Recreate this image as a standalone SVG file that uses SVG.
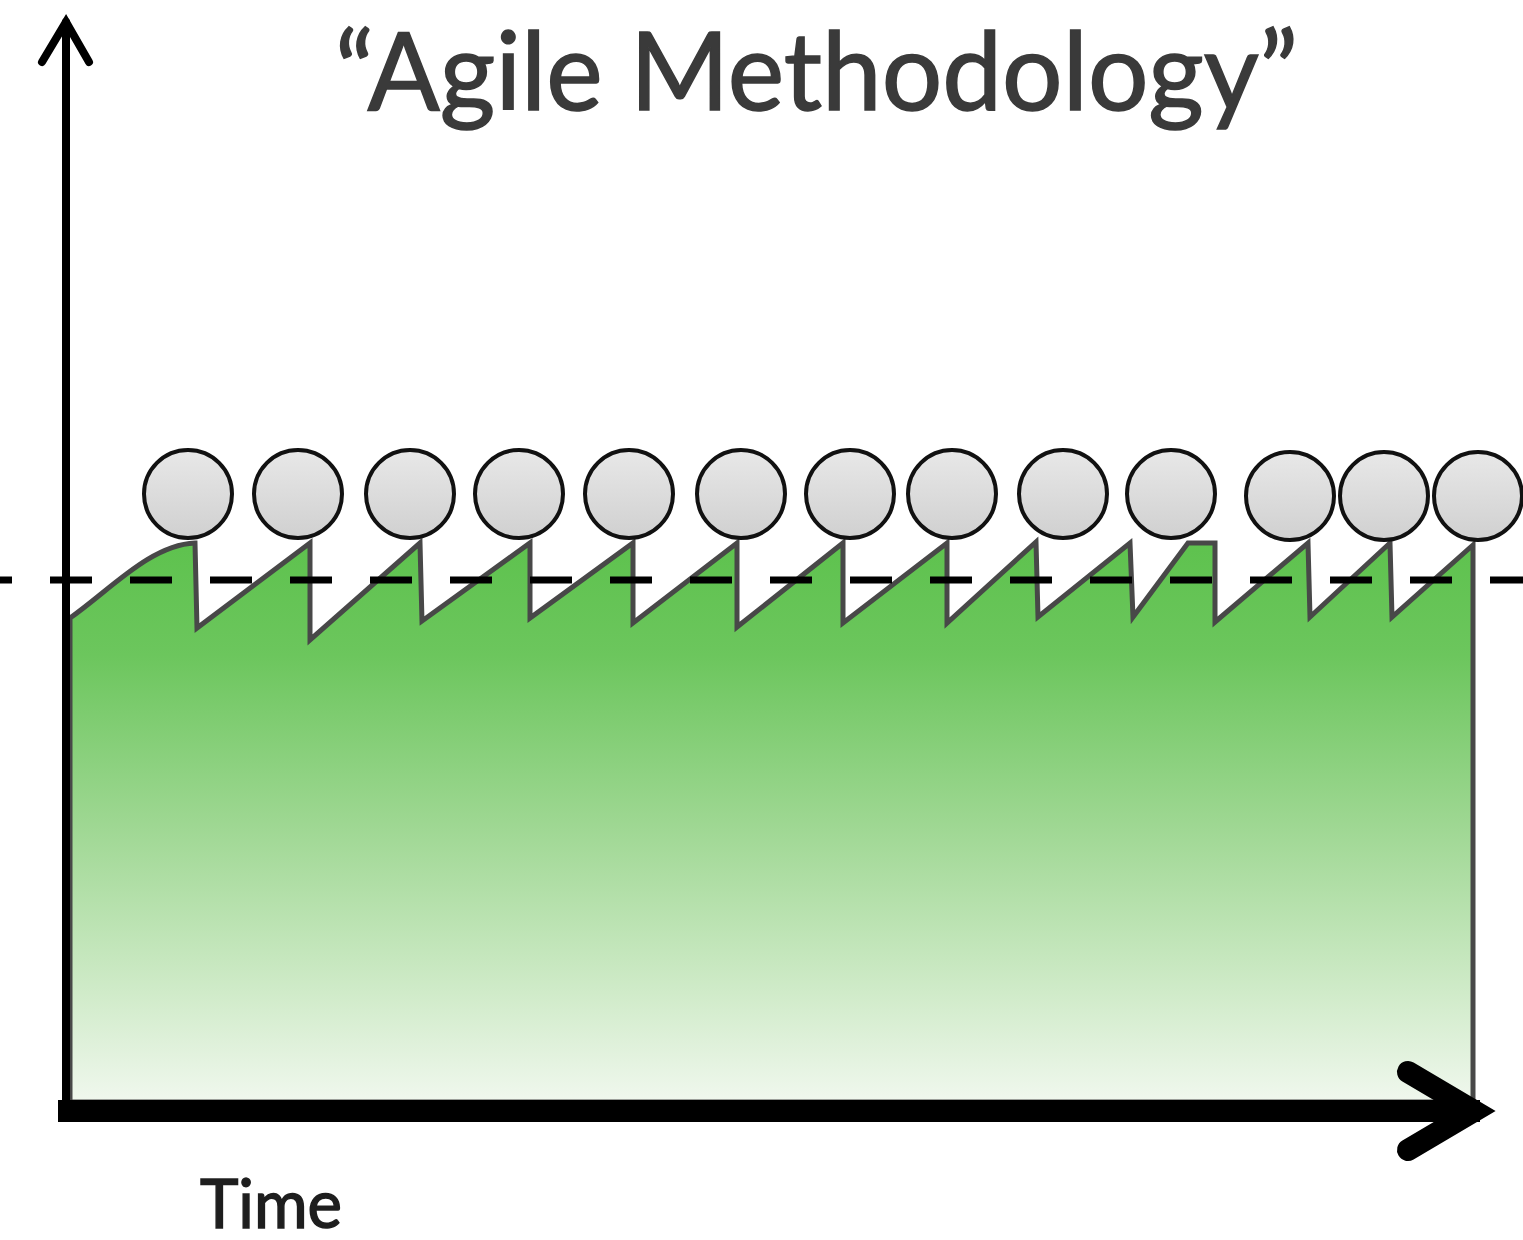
<svg xmlns="http://www.w3.org/2000/svg" width="1523" height="1240" viewBox="0 0 1523 1240">
  <defs>
    <linearGradient id="greenFade" x1="0" y1="543" x2="0" y2="1105" gradientUnits="userSpaceOnUse">
      <stop offset="0" stop-color="#5ec24e"/>
      <stop offset="0.2" stop-color="#6cc65d"/>
      <stop offset="0.5" stop-color="#9ed792"/>
      <stop offset="0.8" stop-color="#d0ebc9"/>
      <stop offset="1" stop-color="#f1f8ef"/>
    </linearGradient>
    <linearGradient id="ball" x1="0" y1="0" x2="0" y2="1">
      <stop offset="0" stop-color="#e8e8e8"/>
      <stop offset="1" stop-color="#d0d0d0"/>
    </linearGradient>
  </defs>
  <style>
    .title { font-family: "Lato", "Liberation Sans", sans-serif; font-size: 108px; fill: #3a3a3a; stroke: #3a3a3a; stroke-width: 1.5; }
    .label { font-family: "Lato", "Liberation Sans", sans-serif; font-size: 68px; fill: #1e1e1e; stroke: #1e1e1e; stroke-width: 1.5; }
    .area { fill: url(#greenFade); stroke: #484848; stroke-width: 5; stroke-linejoin: miter; }
    .target { fill: none; stroke: #000; stroke-width: 7; stroke-dasharray: 42 38; }
    .iter circle { fill: url(#ball); stroke: #111; stroke-width: 4; }
    .axis { fill: none; stroke: #000; stroke-linecap: round; }
  </style>

  <rect width="1523" height="1240" fill="#ffffff"/>

  <!-- heading -->
  <g id="title">
    <text class="title" x="335" y="110" textLength="963" lengthAdjust="spacingAndGlyphs">“Agile Methodology”</text>
  </g>

  <!-- delivered value: sawtooth area under the iterations -->
  <g id="value-area">
    <path class="area" d="M70,618 C110,590 150,545 195,543 L197,628 L310,543 L310,640 L420,543 L422,621 L530,543 L530,618 L633,543 L633,623 L737,543 L737,627 L843,543 L843,623 L947,543 L947,623 L1036,542 L1038,617 L1130,543 L1133,617 L1188,543 L1215,543 L1215,622 L1308,543 L1310,617 L1390,543 L1392,617 L1473,545 L1473,1102 L70,1102 Z"/>
  </g>

  <!-- target level -->
  <g id="target-line">
    <line class="target" x1="-30" y1="580" x2="1523" y2="580"/>
  </g>

  <!-- iterations -->
  <g id="iterations" class="iter">
    <circle cx="188" cy="494" r="44"/>
    <circle cx="298" cy="494" r="44"/>
    <circle cx="410" cy="494" r="44"/>
    <circle cx="519" cy="494" r="44"/>
    <circle cx="629" cy="494" r="44"/>
    <circle cx="741" cy="494" r="44"/>
    <circle cx="850" cy="494" r="44"/>
    <circle cx="952" cy="494" r="44"/>
    <circle cx="1063" cy="494" r="44"/>
    <circle cx="1171" cy="494" r="44"/>
    <circle cx="1290" cy="496" r="44"/>
    <circle cx="1384" cy="496" r="44"/>
    <circle cx="1478" cy="496" r="44"/>
  </g>

  <!-- axes -->
  <g id="axes">
    <line class="axis" x1="66" y1="22" x2="66" y2="1105" stroke-width="8" stroke-linecap="butt"/>
    <polyline class="axis" points="42,62 66,22 89,62" stroke-width="8" stroke-linejoin="miter"/>
    <line x1="58" y1="1111" x2="1480" y2="1111" stroke="#000" stroke-width="22"/>
    <polyline class="axis" points="1408,1072 1474,1111 1408,1150" stroke-width="22" stroke-linejoin="miter"/>
  </g>

  <g id="x-label">
    <text class="label" x="200" y="1228" textLength="142" lengthAdjust="spacingAndGlyphs">Time</text>
  </g>
</svg>
